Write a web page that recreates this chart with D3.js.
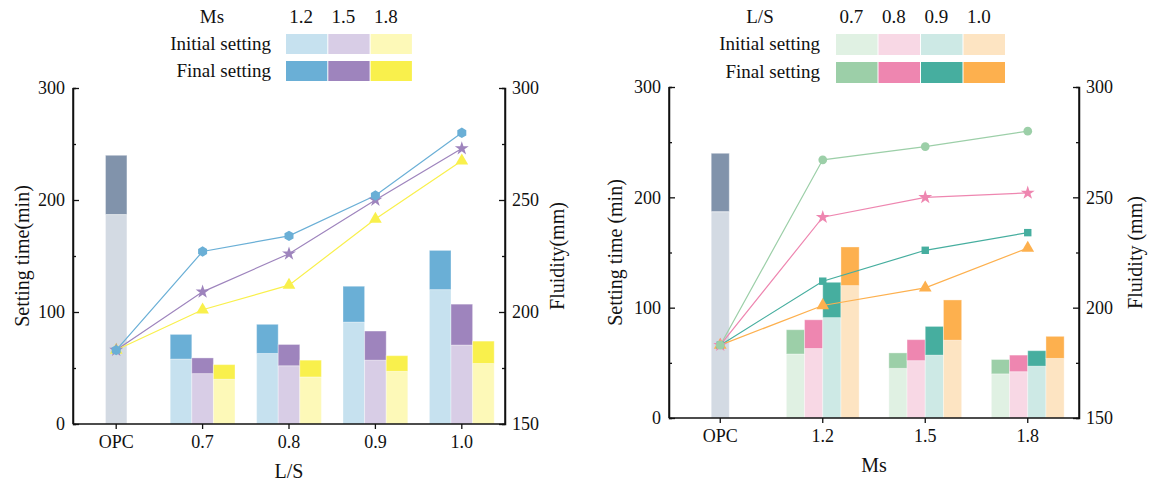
<!DOCTYPE html>
<html><head><meta charset="utf-8">
<script src="https://cdn.jsdelivr.net/npm/d3@7"></script>
<style>
body{margin:0;background:#fff;}
svg text{fill:#111;}
</style></head>
<body><svg id="c" width="1160" height="485"></svg>
<script>
// ---------- data ----------
const leftCats = ["OPC","0.7","0.8","0.9","1.0"];
const rightCats = ["OPC","1.2","1.5","1.8"];
const msLevels = ["1.2","1.5","1.8"];
const lsLevels = ["0.7","0.8","0.9","1.0"];
const opcInitial = 187;
const opcFinal = 240;
const opcFluidity = 183;
// setting times (min) per Ms, across L/S 0.7,0.8,0.9,1.0
const initialMs12 = [58, 63, 91, 120];
const initialMs15 = [45, 52, 57, 70.5];
const initialMs18 = [40, 42, 47, 54];
const finalMs12 = [80, 89, 123, 155];
const finalMs15 = [59, 71, 83, 107];
const finalMs18 = [53, 57, 61, 74];
// fluidity (mm), left chart: per Ms across L/S
const fluidMs12 = [227, 234, 252, 280];
const fluidMs15 = [209, 226, 250, 273];
const fluidMs18 = [201, 212, 241.5, 267.5];
// fluidity (mm), right chart: per L/S across Ms
const fluidLS07 = [267, 273, 280];
const fluidLS08 = [241, 250, 252];
const fluidLS09 = [212, 226, 234];
const fluidLS10 = [201, 209, 227];
const settingTicks = [0, 100, 200, 300];
const fluidTicks = [150, 200, 250, 300];

// ---------- styles ----------
const FONT = "'Liberation Serif', 'DejaVu Serif', serif";
const opcColors = {init:"#d3dae3", fin:"#8193ab"};
const msColors = [{init:"#c6e1ef", fin:"#6aafd6"},{init:"#d8cde6", fin:"#9e84bd"},{init:"#fdf9b8", fin:"#f9f04c"}];
const lsColors = [{init:"#e0f1e3", fin:"#9ccfa8"},{init:"#f8d8e5", fin:"#ee86b0"},{init:"#cde9e5", fin:"#46ae9f"},{init:"#fde4c2", fin:"#fdb04e"}];

const svg = d3.select("#c");
const hexagon = {draw(ctx, size){const r=Math.sqrt(size/2.598);for(let i=0;i<6;i++){const a=Math.PI/6+i*Math.PI/3;const x=r*Math.cos(a),y=r*Math.sin(a);i?ctx.lineTo(x,y):ctx.moveTo(x,y);}ctx.closePath();}};

function panel(o){
  const g = svg.append("g");
  const x = d3.scaleBand().domain(o.cats).range([o.x0,o.x1]).padding(0);
  const yL = d3.scaleLinear().domain([0,300]).range([o.y1,o.y0]);
  const yR = d3.scaleLinear().domain([150,300]).range([o.y1,o.y0]);
  const bw = o.bw;
  // OPC bar
  const cx0 = x("OPC")+x.bandwidth()/2;
  g.append("rect").attr("x",cx0-bw/2).attr("width",bw).attr("y",yL(opcInitial)).attr("height",yL(0)-yL(opcInitial)).attr("fill",opcColors.init).attr("stroke","#fff").attr("stroke-opacity",0.5);
  g.append("rect").attr("x",cx0-bw/2).attr("width",bw).attr("y",yL(opcFinal)).attr("height",yL(opcInitial)-yL(opcFinal)).attr("fill",opcColors.fin).attr("stroke","#fff").attr("stroke-opacity",0.5);
  // grouped bars
  const n = o.series.length;
  o.groups.forEach((gk,gi)=>{
    const cx = x(gk)+x.bandwidth()/2;
    o.series.forEach((s,si)=>{
      const xs = cx - n*bw/2 + si*bw;
      const iv = o.initVal(si,gi), fv = o.finVal(si,gi);
      g.append("rect").attr("x",xs).attr("width",bw).attr("y",yL(iv)).attr("height",yL(0)-yL(iv)).attr("fill",s.init).attr("stroke","#fff").attr("stroke-opacity",0.35);
      g.append("rect").attr("x",xs).attr("width",bw).attr("y",yL(fv)).attr("height",yL(iv)-yL(fv)).attr("fill",s.fin).attr("stroke","#fff").attr("stroke-opacity",0.35);
    });
  });
  // lines
  o.lines.forEach(l=>{
    const pts = [[cx0,yR(opcFluidity)]].concat(l.vals.map((v,i)=>[x(o.groups[i])+x.bandwidth()/2, yR(v)]));
    g.append("path").attr("d",d3.line()(pts)).attr("fill","none").attr("stroke",l.color).attr("stroke-width",1.2);
    l.pts = pts;
  });
  o.lines.slice().reverse().forEach(l=>{
    l.pts.forEach(p=>{
      g.append("path").attr("d",d3.symbol().type(l.sym).size(l.size)()).attr("transform",`translate(${p[0]},${p[1]})`).attr("fill",l.color);
    });
  });
  // axes
  const ax = g.append("g").attr("transform",`translate(0,${o.y1})`).call(d3.axisBottom(x).tickSize(5).tickPadding(6));
  const axL = g.append("g").attr("transform",`translate(${o.x0},0)`).call(d3.axisLeft(yL).tickValues(settingTicks).tickSize(-6).tickPadding(8));
  g.append("g").attr("transform",`translate(${o.x0},0)`).call(d3.axisLeft(yL).tickValues([50,150,250]).tickSize(-3).tickFormat(""));
  const axR = g.append("g").attr("transform",`translate(${o.x1},0)`).call(d3.axisRight(yR).tickValues(fluidTicks).tickSize(-6).tickPadding(7));
  g.append("g").attr("transform",`translate(${o.x1},0)`).call(d3.axisRight(yR).tickValues([175,225,275]).tickSize(-3).tickFormat(""));
  g.selectAll(".domain").attr("stroke","#111").attr("stroke-width",1.5);
  g.selectAll(".tick line").attr("stroke","#111").attr("stroke-width",1.3);
  g.selectAll(".tick text").style("font-size","18px").attr("fill","#111");
  ax.select(".domain").attr("d",`M${o.x0},0H${o.x1}`);
  axL.select(".domain").attr("d",`M0,${o.y1}V${o.y0}`);
  axR.select(".domain").attr("d",`M0,${o.y1}V${o.y0}`);
  // titles
  g.append("text").attr("x",(o.x0+o.x1)/2).attr("y",o.y1+54).attr("text-anchor","middle").style("font-size","20px").text(o.xTitle);
  g.append("text").attr("transform",`translate(${o.ylx},${(o.y0+o.y1)/2}) rotate(-90)`).attr("text-anchor","middle").attr("dy","0.35em").style("font-size","20px").text(o.yLTitle);
  g.append("text").attr("transform",`translate(${o.yrx},${(o.y0+o.y1)/2}) rotate(-90)`).attr("text-anchor","middle").attr("dy","0.35em").style("font-size","20px").text(o.yRTitle);
  // legend table
  const lg = svg.append("g");
  lg.append("text").attr("x",o.lg.headX).attr("y",23).attr("text-anchor","middle").style("font-size","19px").text(o.lg.head);
  o.lg.labels.forEach((t,i)=>{
    lg.append("text").attr("x",o.lg.sx+i*o.lg.sw+o.lg.sw/2-6).attr("y",23).attr("text-anchor","middle").style("font-size","19px").text(t);
  });
  lg.append("text").attr("x",o.lg.rowEnd).attr("y",o.lg.r1+16).attr("text-anchor","end").style("font-size","19px").text("Initial setting");
  lg.append("text").attr("x",o.lg.rowEnd).attr("y",o.lg.r2+16).attr("text-anchor","end").style("font-size","19px").text("Final setting");
  o.series.forEach((s,i)=>{
    lg.append("rect").attr("x",o.lg.sx+i*o.lg.sw).attr("y",o.lg.r1).attr("width",o.lg.sw-1).attr("height",o.lg.sh).attr("fill",s.init);
    lg.append("rect").attr("x",o.lg.sx+i*o.lg.sw).attr("y",o.lg.r2).attr("width",o.lg.sw-1).attr("height",o.lg.sh).attr("fill",s.fin);
  });
}

panel({
  cats:leftCats, groups:leftCats.slice(1), x0:73, x1:505, y0:88, y1:424, bw:21.6,
  series:msColors,
  initVal:(si,gi)=>[initialMs12,initialMs15,initialMs18][si][gi],
  finVal:(si,gi)=>[finalMs12,finalMs15,finalMs18][si][gi],
  lines:[
    {vals:fluidMs12,color:msColors[0].fin,sym:hexagon,size:70},
    {vals:fluidMs15,color:msColors[1].fin,sym:d3.symbolStar,size:60},
    {vals:fluidMs18,color:msColors[2].fin,sym:d3.symbolTriangle,size:70}
  ],
  xTitle:"L/S", yLTitle:"Setting time(min)", yRTitle:"Fluidity(mm)", ylx:22, yrx:557,
  lg:{head:"Ms",headX:212,labels:msLevels,sx:286,sw:42.3,sh:20,r1:34,r2:61,rowEnd:271}
});
panel({
  cats:rightCats, groups:rightCats.slice(1), x0:669, x1:1079, y0:87, y1:418, bw:18.2,
  series:lsColors,
  initVal:(si,gi)=>[initialMs12,initialMs15,initialMs18][gi][si],
  finVal:(si,gi)=>[finalMs12,finalMs15,finalMs18][gi][si],
  lines:[
    {vals:fluidLS07,color:lsColors[0].fin,sym:d3.symbolCircle,size:60},
    {vals:fluidLS08,color:lsColors[1].fin,sym:d3.symbolStar,size:60},
    {vals:fluidLS09,color:lsColors[2].fin,sym:d3.symbolSquare,size:55},
    {vals:fluidLS10,color:lsColors[3].fin,sym:d3.symbolTriangle,size:70}
  ],
  xTitle:"Ms", yLTitle:"Setting time (min)", yRTitle:"Fluidity (mm)", ylx:615, yrx:1135,
  lg:{head:"L/S",headX:760,labels:lsLevels,sx:836,sw:42.5,sh:21,r1:34,r2:62,rowEnd:820}
});
svg.selectAll("text").style("font-family",FONT);
</script></body></html>
